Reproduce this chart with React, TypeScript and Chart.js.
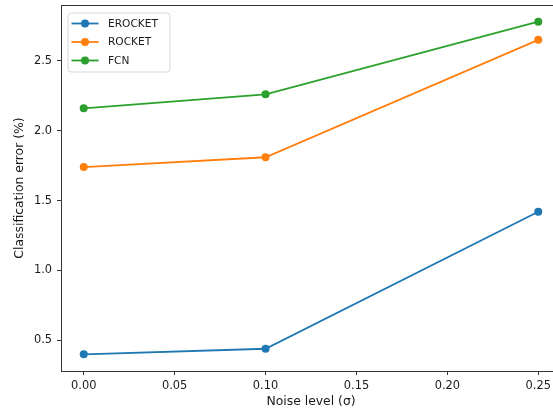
import React, { useEffect, useRef } from "react";
import { Chart, registerables } from "chart.js";

Chart.register(...registerables);

const noiseLevels = [0, 0.1, 0.25];
const erocket = [0.4, 0.44, 1.42];
const rocket = [1.74, 1.81, 2.65];
const fcn = [2.16, 2.26, 2.78];
const seriesNames = ["EROCKET", "ROCKET", "FCN"];
const seriesColors = ["#1f77b4", "#ff7f0e", "#2ca02c"];
const xTitle = "Noise level (σ)";
const yTitle = "Classification error (%)";

const FONT = "'DejaVu Sans', sans-serif";
const TEXT = "#1a1a1a";
const PLOT_RIGHT = 561;

const extendPlugin = {
  id: "extendArea",
  afterLayout(chart: any) {
    const xs = chart.scales.x;
    chart.chartArea.right = PLOT_RIGHT;
    chart.chartArea.width = PLOT_RIGHT - chart.chartArea.left;
    xs.right = PLOT_RIGHT;
    xs.width = PLOT_RIGHT - xs.left;
    xs.configure();
  },
};

const framePlugin = {
  id: "frame",
  afterDatasetsDraw(chart: any) {
    const { ctx, chartArea } = chart;
    ctx.save();
    ctx.strokeStyle = "#333";
    ctx.lineWidth = 1;
    ctx.strokeRect(
      Math.round(chartArea.left) + 0.5,
      Math.round(chartArea.top) + 0.5,
      Math.round(chartArea.right - chartArea.left),
      Math.round(chartArea.bottom - chartArea.top)
    );
    ctx.restore();
  },
};

const legendPlugin = {
  id: "mplLegend",
  afterDraw(chart: any) {
    const { ctx, chartArea } = chart;
    const x0 = chartArea.left + 7;
    const y0 = chartArea.top + 8;
    const w = 102;
    const h = 59;
    ctx.save();
    ctx.beginPath();
    const r = 3;
    ctx.moveTo(x0 + r, y0);
    ctx.lineTo(x0 + w - r, y0);
    ctx.quadraticCurveTo(x0 + w, y0, x0 + w, y0 + r);
    ctx.lineTo(x0 + w, y0 + h - r);
    ctx.quadraticCurveTo(x0 + w, y0 + h, x0 + w - r, y0 + h);
    ctx.lineTo(x0 + r, y0 + h);
    ctx.quadraticCurveTo(x0, y0 + h, x0, y0 + h - r);
    ctx.lineTo(x0, y0 + r);
    ctx.quadraticCurveTo(x0, y0, x0 + r, y0);
    ctx.closePath();
    ctx.fillStyle = "rgba(255,255,255,0.8)";
    ctx.fill();
    ctx.strokeStyle = "#d6d6d6";
    ctx.lineWidth = 1;
    ctx.stroke();
    chart.data.datasets.forEach((ds: any, i: number) => {
      const cy = y0 + 10.5 + i * 18.5;
      ctx.strokeStyle = ds.borderColor;
      ctx.lineWidth = 1.8;
      ctx.beginPath();
      ctx.moveTo(x0 + 3.5, cy);
      ctx.lineTo(x0 + 30.5, cy);
      ctx.stroke();
      ctx.fillStyle = ds.borderColor;
      ctx.beginPath();
      ctx.arc(x0 + 17, cy, 4, 0, Math.PI * 2);
      ctx.fill();
      ctx.fillStyle = TEXT;
      ctx.font = `10.6px ${FONT}`;
      ctx.textBaseline = "middle";
      ctx.textAlign = "left";
      ctx.fillText(ds.label, x0 + 40, cy + 0.5);
    });
    ctx.restore();
  },
};

export default function App() {
  const ref = useRef<HTMLCanvasElement | null>(null);
  useEffect(() => {
    if (!ref.current) return;
    const values = [erocket, rocket, fcn];
    const chart = new Chart(ref.current, {
      type: "line",
      data: {
        datasets: values.map((vals, i) => ({
          label: seriesNames[i],
          data: noiseLevels.map((x, j) => ({ x, y: vals[j] })),
          borderColor: seriesColors[i],
          backgroundColor: seriesColors[i],
          borderWidth: 1.8,
          pointRadius: 4,
          pointHoverRadius: 4,
          pointBorderWidth: 0,
          tension: 0,
        })),
      },
      options: {
        animation: false,
        responsive: false,
        devicePixelRatio: 1,
        layout: { padding: { left: 0, top: 5, right: 0, bottom: 0 } },
        plugins: { legend: { display: false }, tooltip: { enabled: false } },
        scales: {
          x: {
            type: "linear",
            min: -0.0125,
            max: 0.2625,
            afterFit: (s: any) => {
              s.height = 41;
              s.paddingLeft = 0;
              s.paddingRight = 0;
            },
            grid: { drawOnChartArea: false, drawTicks: true, tickLength: 4, color: "#333" },
            border: { display: false },
            ticks: {
              stepSize: 0.05,
              includeBounds: false,
              autoSkip: false,
              maxRotation: 0,
              padding: 4,
              color: TEXT,
              font: { family: FONT, size: 11.4 },
              callback: (v: any) => Number(v).toFixed(2),
            },
            title: {
              display: true,
              text: xTitle,
              color: TEXT,
              font: { family: FONT, size: 12.4 },
              padding: { top: 0, bottom: 2.9 },
            },
          },
          y: {
            type: "linear",
            min: 0.281,
            max: 2.899,
            afterFit: (s: any) => {
              s.width = 61;
              s.paddingTop = 0;
              s.paddingBottom = 0;
            },
            grid: { drawOnChartArea: false, drawTicks: true, tickLength: 4, color: "#333" },
            border: { display: false },
            ticks: {
              stepSize: 0.5,
              includeBounds: false,
              padding: 5,
              color: TEXT,
              font: { family: FONT, size: 11.4 },
              callback: (v: any) => Number(v).toFixed(1),
            },
            title: {
              display: true,
              text: yTitle,
              color: TEXT,
              font: { family: FONT, size: 12.4 },
              padding: { top: 12.6, bottom: 0 },
            },
          },
        },
      },
      plugins: [extendPlugin, framePlugin, legendPlugin],
    });
    return () => chart.destroy();
  }, []);
  return (
    <div style={{ position: "absolute", left: 0, top: 0, width: 553, height: 412 }}>
      <canvas ref={ref} width={553} height={412} style={{ width: 553, height: 412, display: "block" }} />
    </div>
  );
}
